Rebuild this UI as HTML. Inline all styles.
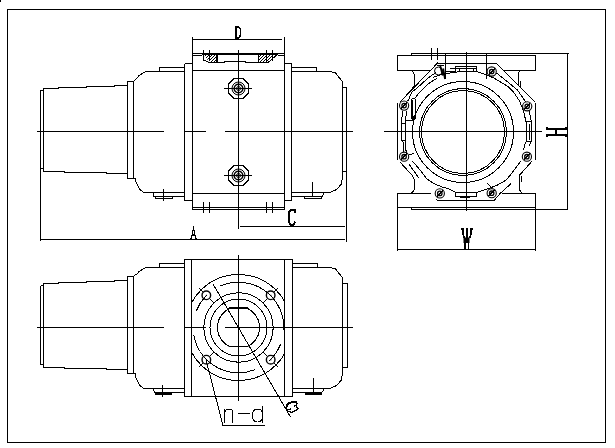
<!DOCTYPE html>
<html><head><meta charset="utf-8"><style>
html,body{margin:0;padding:0;background:#fff;width:615px;height:448px;overflow:hidden}
svg{display:block}
svg path, svg line, svg circle{fill:none;stroke:#000;shape-rendering:crispEdges}
svg text{fill:#000;stroke:none}
</style></head><body>
<svg width="615" height="448" viewBox="0 0 615 448">
<path d="M7.5,9.5 H605.5 V442.5 H7.5 Z" stroke-width="1" />
<rect x="0" y="0" width="1" height="2" fill="#000" stroke="none"/>
<g transform="translate(0,0)">
<path d="M43.5,90.5 H40.5" stroke-width="1" />
<path d="M43.5,88 V172" stroke-width="1" />
<path d="M43.5,88.5 H58 V87.5 H86 V86.5 H114 V85.5 H127.5" stroke-width="1" />
<path d="M43.5,171.5 H64 V172.5 H106 V173.5 H127.5" stroke-width="1" />
<path d="M40.5,168.5 H43.5" stroke-width="1" />
<path d="M127.5,81.5 H133.5 V178.5 H127.5 Z" stroke-width="1" />
<path d="M133.5,81.5 L135,80 L137.7,77.4 L139,75.4 L142.4,73.4 L145.5,71.5 H184.5" stroke-width="1" />
<path d="M159.5,71.5 V67.5 H184.5" stroke-width="1" />
<path d="M133.5,178.5 H135 L136,182 L139.5,189 L143,192 L145,192.5 H184.5" stroke-width="1" />
<path d="M153,192.5 V196.5 H184.5" stroke-width="1" />
<path d="M155,196.5 V198.5 H172 V196.5" stroke-width="1" />
<path d="M163.5,188.5 V200.5" stroke-width="1" />
<path d="M291.5,71.5 H330 L335.5,73 L339,77.5 L342.5,81.5 V178 L341,184.5 L336.5,189.5 L330,192.5 H291.5" stroke-width="1" />
<path d="M291.5,67.5 H316.5 V71.5" stroke-width="1" />
<path d="M342.5,87.5 H346.5 M342.5,171.5 H346.5" stroke-width="1" />
<path d="M291.5,196.5 H321.5 L323.5,194.5 V192.5" stroke-width="1" />
<path d="M304.5,196.5 V198.5 H321 L322.5,196.5" stroke-width="1" />
<path d="M312.5,182 V196.5" stroke-width="1" />
</g>
<path d="M40.5,90 V241" stroke-width="1" />
<path d="M346.5,87.5 V241.5" stroke-width="1" />
<path d="M346.5,87.5 V171.5" stroke-width="1" />
<path d="M184.5,63.5 H192.5 M184.5,63.5 V200.5 H192.5" stroke-width="1" />
<path d="M192.5,37 V210" stroke-width="1" />
<path d="M284.5,37 V210" stroke-width="1" />
<path d="M284.5,63.5 H291.5 V200.5 H284.5" stroke-width="1" />
<path d="M192.5,70.5 H284.5" stroke-width="1" />
<path d="M192.5,193.5 H284.5" stroke-width="1" />
<path d="M192.5,207.5 H284.5 M192.5,209.5 H284.5" stroke-width="1" />
<path d="M203.5,202 V212.5" stroke-width="1" />
<path d="M209.5,202 V212.5" stroke-width="1" />
<path d="M266.5,202 V212.5" stroke-width="1" />
<path d="M272.5,202 V212.5" stroke-width="1" />
<path d="M203.5,50 V60.5" stroke-width="1" />
<path d="M209.5,50 V60.5" stroke-width="1" />
<path d="M266.5,50 V60.5" stroke-width="1" />
<path d="M272.5,50 V60.5" stroke-width="1" />
<path d="M192.5,53.5 H284.5" stroke-width="1" />
<path d="M202,54.5 H278" stroke-width="1" />
<path d="M192.5,55.5 H202 M278,55.5 H284.5" stroke-width="1" />
<path d="M217,54 V63" stroke-width="2" />
<path d="M203.5,60 L209,62.5 H224 V61 H245 V62.5 H258.5" stroke-width="1" />
<path d="M258.5,54 V62.5 H268 L278,54" stroke-width="1" />
<clipPath id="hL"><path d="M203,54 H217.5 V63 H210 Z"/></clipPath>
<clipPath id="hR"><path d="M258.5,54 H278 L268,62.5 H258.5 Z"/></clipPath>
<path clip-path="url(#hL)" d="M183,63 L193,53 M186,63 L196,53 M189,63 L199,53 M192,63 L202,53 M195,63 L205,53 M198,63 L208,53 M201,63 L211,53 M204,63 L214,53 M207,63 L217,53 M210,63 L220,53 M213,63 L223,53 M216,63 L226,53 M219,63 L229,53 M222,63 L232,53 M225,63 L235,53 M228,63 L238,53 M231,63 L241,53 M234,63 L244,53 M237,63 L247,53 M240,63 L250,53" stroke-width="1"/>
<path clip-path="url(#hR)" d="M238,63 L248,53 M241,63 L251,53 M244,63 L254,53 M247,63 L257,53 M250,63 L260,53 M253,63 L263,53 M256,63 L266,53 M259,63 L269,53 M262,63 L272,53 M265,63 L275,53 M268,63 L278,53 M271,63 L281,53 M274,63 L284,53 M277,63 L287,53 M280,63 L290,53 M283,63 L293,53 M286,63 L296,53 M289,63 L299,53 M292,63 L302,53 M295,63 L305,53" stroke-width="1"/>
<path d="M238.5,50 V228.5" stroke-width="1" />
<path d="M37,131.5 H164 M184.5,131.5 H206 M225,131.5 H353" stroke-width="1" />
<path d="M248.66,92.71 L242.71,98.66 L234.29,98.66 L228.34,92.71 L228.34,84.29 L234.29,78.34 L242.71,78.34 L248.66,84.29 Z" stroke-width="1" />
<circle cx="238.5" cy="88.5" r="6.5" stroke-width="1" style="shape-rendering:auto"/>
<circle cx="238.5" cy="88.5" r="4.3" stroke-width="1.6" style="shape-rendering:auto"/>
<circle cx="238.5" cy="88.5" r="2" stroke-width="1" style="shape-rendering:auto"/>
<path d="M224,88.5 H252" stroke-width="1" />
<path d="M248.66,179.71 L242.71,185.66 L234.29,185.66 L228.34,179.71 L228.34,171.29 L234.29,165.34 L242.71,165.34 L248.66,171.29 Z" stroke-width="1" />
<circle cx="238.5" cy="175.5" r="6.5" stroke-width="1" style="shape-rendering:auto"/>
<circle cx="238.5" cy="175.5" r="4.3" stroke-width="1.6" style="shape-rendering:auto"/>
<circle cx="238.5" cy="175.5" r="2" stroke-width="1" style="shape-rendering:auto"/>
<path d="M224,175.5 H252" stroke-width="1" />
<path d="M192.5,39.5 H282" stroke-width="1" />
<path d="M40.5,239.5 H345" stroke-width="1" />
<path d="M240,226.5 H345" stroke-width="1" />
<g transform="translate(0,196)">
<path d="M43.5,89.5 H40.5" stroke-width="1" />
<path d="M43.5,87 V172" stroke-width="1" />
<path d="M43.5,87.5 H58 V86.5 H86 V85.5 H114 V84.5 H127.5" stroke-width="1" />
<path d="M43.5,171.5 H64 V172.5 H106 V173.5 H127.5" stroke-width="1" />
<path d="M40.5,168.5 H43.5" stroke-width="1" />
<path d="M127.5,80.5 H133.5 V177.5 H127.5 Z" stroke-width="1" />
<path d="M133.5,80.5 L135,79 L137.7,77.4 L139,75.4 L142.4,73.4 L145.5,71.5 H184.5" stroke-width="1" />
<path d="M159.5,71.5 V67.5 H184.5" stroke-width="1" />
<path d="M133.5,177.5 H135 L136,182 L139.5,189 L143,192 L145,192.5 H184.5" stroke-width="1" />
<path d="M152.5,192.5 L155,196.5 H184.5" stroke-width="1" />
<path d="M155,197.5 H171.5" stroke-width="2" />
<path d="M162.5,189 V200.5" stroke-width="1" />
<path d="M291.5,71.5 H330 L335.5,73 L339,77.5 L342.5,81.5 V178 L341,184.5 L336.5,189.5 L330,192.5 H291.5" stroke-width="1" />
<path d="M291.5,67.5 H317.5 V71.5" stroke-width="1" />
<path d="M342.5,87.5 H347.5 M342.5,171.5 H347.5" stroke-width="1" />
<path d="M291.5,196.5 H321.5 L323.5,194.5 V192.5" stroke-width="1" />
<path d="M305,197.5 H321.5" stroke-width="2" />
<path d="M313.5,182 V196.5" stroke-width="1" />
</g>
<path d="M40.5,286 V364.5" stroke-width="1" />
<path d="M347.5,283.5 V367.5" stroke-width="1" />
<path d="M184.5,259.5 H292.5 V396.5 H184.5 Z" stroke-width="1" />
<path d="M191.5,259.5 V396.5 M284.5,259.5 V396.5" stroke-width="1" />
<path d="M238.5,255 V401" stroke-width="1" />
<path d="M37,327.5 H164 M184.5,327.5 H205.5 M225,327.5 H353" stroke-width="1" />
<clipPath id="blk"><rect x="191.5" y="250" width="93" height="160"/></clipPath>
<circle cx="238.5" cy="327.5" r="53" stroke-width="1" clip-path="url(#blk)"/>
<circle cx="238.5" cy="327.5" r="34.7" stroke-width="1" />
<circle cx="238.5" cy="327.5" r="28.5" stroke-width="1" />
<clipPath id="bore"><rect x="200" y="308" width="80" height="38.5"/></clipPath>
<circle cx="238.5" cy="327.5" r="21" stroke-width="1" clip-path="url(#bore)"/>
<path d="M229,308 H248" stroke-width="1.6" />
<path d="M229,346.5 H248" stroke-width="1.2" />
<path d="M220.07,286.12 A45.3,45.3 0 0 1 283.74,329.87" stroke-width="1" />
<path d="M280.50,344.47 A45.3,45.3 0 0 1 268.81,361.16" stroke-width="1" />
<path d="M255.47,369.50 A45.3,45.3 0 0 1 193.89,335.37" stroke-width="1" />
<path d="M196.50,310.53 A45.3,45.3 0 0 1 205.91,296.03" stroke-width="1" />
<circle cx="270.67" cy="359.67" r="4.3" stroke-width="1.4" style="shape-rendering:auto"/>
<rect x="270.17" y="359.17" width="1.2" height="1.2" fill="#000" stroke="none"/>
<path d="M262.54,351.54 L267.49,356.49 M273.86,362.86 L278.10,367.10" stroke-width="1" />
<circle cx="206.33" cy="359.67" r="4.3" stroke-width="1.4" style="shape-rendering:auto"/>
<rect x="205.83" y="359.17" width="1.2" height="1.2" fill="#000" stroke="none"/>
<path d="M214.46,351.54 L209.51,356.49 M203.14,362.86 L198.90,367.10" stroke-width="1" />
<circle cx="206.33" cy="295.33" r="4.3" stroke-width="1.4" style="shape-rendering:auto"/>
<rect x="205.83" y="294.83" width="1.2" height="1.2" fill="#000" stroke="none"/>
<path d="M214.46,303.46 L209.51,298.51 M203.14,292.14 L198.90,287.90" stroke-width="1" />
<circle cx="270.67" cy="295.33" r="4.3" stroke-width="1.4" style="shape-rendering:auto"/>
<rect x="270.17" y="294.83" width="1.2" height="1.2" fill="#000" stroke="none"/>
<path d="M262.54,303.46 L267.49,298.51 M273.86,292.14 L278.10,287.90" stroke-width="1" />
<path d="M213,284 L290.5,417" stroke-width="1" />
<path d="M205.9,359.5 L223,425.5 H265" stroke-width="1" />
<path d="M224.5,409 V422.5 M224.5,412 Q226,409 229,409 H230 Q232.5,409 232.5,412 V422.5" stroke-width="1" />
<path d="M237.5,413.5 H249.5" stroke-width="1" />
<path d="M262.5,406 V422.5 M262.5,419 Q261,422 257.5,422 Q252.5,422 252.5,415.5 Q252.5,409 257.5,409 Q261,409 262.5,412" stroke-width="1" />
<path d="M430,70.5 H397.5 V55.5 H535.5 V70.5 H503" stroke-width="1" />
<path d="M411,55.5 L412,53.5 H569" stroke-width="1" />
<path d="M430.5,193.5 H397.5 V207.5 H535.5 V193.5 H501.5" stroke-width="1" />
<path d="M411,207.5 L412,209.5 H568" stroke-width="1" />
<path d="M567.5,53.5 V209.5" stroke-width="1" />
<path d="M397.5,207.5 V251 M535.5,207.5 V251 M397.5,249.5 H535.5" stroke-width="1" />
<path d="M384,131.5 H542" stroke-width="1" />
<path d="M466.5,52 V211" stroke-width="1" />
<path d="M399.5,102.5 L437.6,63 H496.2 L535.5,102.5" stroke-width="1" />
<path d="M397.5,103 V160" stroke-width="1" />
<path d="M535.5,102.5 V160" stroke-width="1" />
<path d="M400.2,162.3 L412.5,175.7" stroke-width="1" />
<path d="M531.9,161.2 L519.6,175.1" stroke-width="1" />
<path d="M436,72.5 L429.8,76.7 L423.1,82.4 L416.4,88.75 L411.7,92.1 L409,98.8 L407.5,101.5" stroke-width="1" />
<path d="M437.1,78.5 L430.5,82.1 L424.4,87.4 L419.7,92.1 L415,98.1 L412.5,99" stroke-width="1" />
<path d="M411.5,99 V118.6 H415.9 V99" stroke-width="1" />
<path d="M411.8,100 V118" stroke-width="1.6" />
<path d="M403,111 L401,123.5 V140.2 H405.7 V123.5 H401 M406.5,111 L405.7,120 V123.5 M405.7,140.2 V150 L407,152.5 M401,140.2 L403,142 V151.5 M405.7,120.1 H412.3 L414.8,115" stroke-width="1" />
<path d="M433,77.4 Q440,74.5 447,73.4 L459.3,71.75 H476.8 L482,73.4 Q488,75 495,78.6" stroke-width="1" />
<path d="M496.7,73.2 L505.1,79.9 L517.4,89.9 L523.5,98.8 L525.5,102" stroke-width="1" />
<path d="M495,78.7 L507.3,86 L513.5,92.1 L519.6,101.1 L523.4,110.7 L525.6,120 L526.3,122.9 V141.4 L524.9,144.3 L523.4,150" stroke-width="1" />
<path d="M529.1,110.7 L531.3,121.4 V141.4 L529.1,145.7 M525.6,121.4 H531.3 M526.3,141.4 H531.3 M529.1,124 V140" stroke-width="1" />
<path d="M409.2,164.5 L419.2,178.5" stroke-width="1" />
<path d="M412.5,161.2 L419.2,169 L427,179 L433.7,183.5 L441.5,186.8 L448,188.5 L455.6,192.5" stroke-width="1" />
<path d="M520.7,161.2 L512.9,171.8 L506.2,180.1 L496.2,185.7 L483.5,190.2 L476.6,192.5" stroke-width="1" />
<path d="M511.2,183.5 L500.6,193 L494,200.5 H438 L435.7,198.9" stroke-width="1" />
<path d="M487.2,183.5 L491.7,188" stroke-width="1" />
<circle cx="463" cy="132" r="50.5" stroke-width="1" />
<circle cx="463" cy="132" r="43.5" stroke-width="1" />
<circle cx="463" cy="132" r="41.5" stroke-width="1" />
<path d="M411.5,70.5 Q414.2,71.5 414.2,76.5 V85.4 L412.5,88.2" stroke-width="1" />
<path d="M521.3,70.5 Q518.5,71 518.5,73.2 V86 M520.7,81 V87.7" stroke-width="1" />
<path d="M410.3,193.5 Q414.7,191 414.7,188 V180.1 L412.5,175.7" stroke-width="1" />
<path d="M522.9,193.5 Q519,191 519,186.8 V175.1 M521,176.2 V182.4" stroke-width="1" />
<path d="M431.5,48 V60 M437.5,48 V60" stroke-width="1" />
<path d="M445.5,53.5 V79 M486.5,53.5 V79" stroke-width="1" />
<path d="M455,66.6 H476.8 V71.75" stroke-width="1" />
<path d="M455,68.8 H475.5" stroke-width="1" />
<path d="M455.5,66.6 V71.5 H445.6" stroke-width="1" />
<path d="M459.3,68.8 V71.4 H473.6 V68.8" stroke-width="1" />
<path d="M449.5,68.2 H455" stroke-width="1" />
<path d="M455.6,192.5 H476.6 V196.5 H455.6 Z" stroke-width="1" />
<path d="M460,197 H470" stroke-width="1.5" />
<circle cx="491.7" cy="71.5" r="4.6" stroke-width="1.1" style="shape-rendering:auto"/>
<circle cx="491.7" cy="71.5" r="2.2" stroke-width="1.3" style="shape-rendering:auto"/>
<path d="M488.7,74.5 L494.7,68.5" stroke-width="1.3" />
<circle cx="404.1" cy="105.6" r="4.6" stroke-width="1.1" style="shape-rendering:auto"/>
<circle cx="404.1" cy="105.6" r="2.2" stroke-width="1.3" style="shape-rendering:auto"/>
<path d="M401.1,108.6 L407.1,102.6" stroke-width="1.3" />
<circle cx="527.2" cy="106.3" r="4.6" stroke-width="1.1" style="shape-rendering:auto"/>
<circle cx="527.2" cy="106.3" r="2.2" stroke-width="1.3" style="shape-rendering:auto"/>
<path d="M524.2,109.3 L530.2,103.3" stroke-width="1.3" />
<circle cx="404.1" cy="156.7" r="4.6" stroke-width="1.1" style="shape-rendering:auto"/>
<circle cx="404.1" cy="156.7" r="2.2" stroke-width="1.3" style="shape-rendering:auto"/>
<path d="M401.1,159.7 L407.1,153.7" stroke-width="1.3" />
<circle cx="526.9" cy="156.7" r="4.6" stroke-width="1.1" style="shape-rendering:auto"/>
<circle cx="526.9" cy="156.7" r="2.2" stroke-width="1.3" style="shape-rendering:auto"/>
<path d="M523.9,159.7 L529.9,153.7" stroke-width="1.3" />
<circle cx="439.8" cy="193.4" r="4.6" stroke-width="1.1" style="shape-rendering:auto"/>
<circle cx="439.8" cy="193.4" r="2.2" stroke-width="1.3" style="shape-rendering:auto"/>
<path d="M436.8,196.4 L442.8,190.4" stroke-width="1.3" />
<circle cx="491.7" cy="193.2" r="4.6" stroke-width="1.1" style="shape-rendering:auto"/>
<circle cx="491.7" cy="193.2" r="2.2" stroke-width="1.3" style="shape-rendering:auto"/>
<path d="M488.7,196.2 L494.7,190.2" stroke-width="1.3" />
<path d="M409.2,155 L413.6,153.3" stroke-width="1" />
<circle cx="438.5" cy="71" r="4" stroke-width="1" style="shape-rendering:auto"/>
<path d="M437,63 L438.5,62.5" stroke-width="2" />
<path d="M440,65 L442.8,75.5 M443.2,68.5 L445,79" stroke-width="1.8" style="shape-rendering:auto"/>
<path d="M437,65.5 H444" stroke-width="1" />
<path d="M461,229 H464.2 M470,229 H473" stroke-width="2" />
<path d="M462.9,230 V234 L464.5,238 M471.2,230 V234 L469.5,238" stroke-width="1.6" />
<path d="M466.9,228 V240" stroke-width="1.7" />
<rect x="463.5" y="237.5" width="6" height="5.5" fill="#000" stroke="none"/>
<path d="M465,243 V249 M468.4,243 V249" stroke-width="1.4" />
<path d="M546.5,128.8 H566.5 M546.5,135.2 H566.5" stroke-width="1.8" />
<path d="M547.1,127.3 V130.3 M547.1,133.7 V136.7 M566,127.3 V130.3 M566,133.7 V136.7" stroke-width="1.6" />
<path d="M556,129.5 V134.5" stroke-width="1.2" />
<path d="M235.9,26.8 H238.6 L240.4,29.2 V35.4 L238.6,37.9 H235.9 Z" stroke-width="1.7" />
<path d="M236.1,26 V39" stroke-width="2" />
<path d="M295.2,213 L295,210.2 H290.6 L289.1,212.2 V222.6 L290.6,224.6 H293.6 L295.3,222" stroke-width="1.9" />
<path d="M193.3,226 V230.5" stroke-width="1.3" />
<path d="M192.4,230.5 H194.3 V235 H192.4 Z" stroke-width="1.2" />
<path d="M191.6,235.2 L191,239 M195.2,235.2 L196.2,239 M191.5,235.5 H195.5" stroke-width="1.3" />
<path d="M285.7,408.4 L288,403.7 L291.4,402.4 H296.1 L297.4,404.2" stroke-width="2" />
<path d="M294,406.4 L295.4,405.4 L296.1,406 L297.4,408 L299.4,408.7" stroke-width="1.4" />
<path d="M286.7,410.7 L291.4,412.4 L296.8,410 L298,408.7" stroke-width="1.4" />
<path d="M286.7,409.4 L290.7,409" stroke-width="1.2" />
</svg></body></html>
